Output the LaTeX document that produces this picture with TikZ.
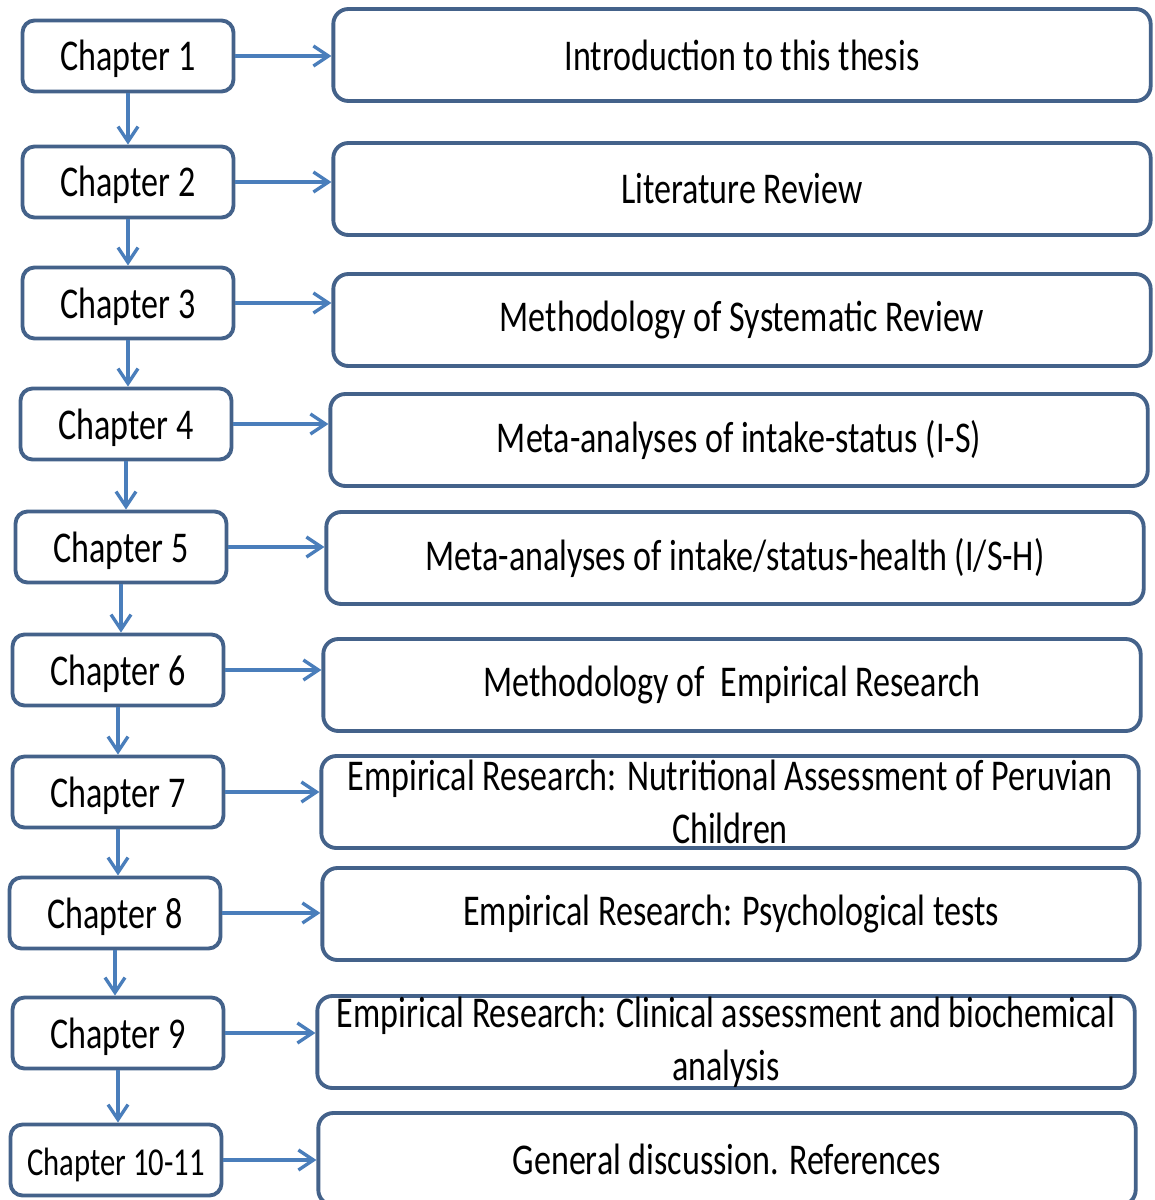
\documentclass[tikz,border=0pt]{standalone}
\usepackage{fontspec}
\setmainfont{Carlito}[FakeStretch=0.775]
\usepackage{tikz}
\usetikzlibrary{arrows.meta}
\definecolor{boxline}{RGB}{68,98,138}
\definecolor{arrowline}{RGB}{74,126,187}

\begin{document}
\begin{tikzpicture}[
    x=0.02cm, y=-0.02cm,
    font=\fontsize{25}{30}\selectfont,
    chap/.style={draw=boxline, line width=2.2pt, fill=white, rounded corners=0.24cm, minimum width=4.22cm, minimum height=1.42cm, inner sep=0pt, text depth=0.12cm, text height=0.72cm},
    desc/.style={draw=boxline, line width=2.2pt, fill=white, rounded corners=0.3cm, minimum width=16.35cm, minimum height=1.84cm, inner sep=0pt, align=center},
    link/.style={draw=arrowline, line width=1.9pt, -{Straight Barb[length=0.3cm, width=0.4cm]}}
]
\useasboundingbox (0,0) rectangle (1155,1200);

% Chapter boxes (left column)
\node[chap] (c1) at (128,56) {Chapter 1};
\node[chap] (c2) at (128,182) {Chapter 2};
\node[chap] (c3) at (128,303) {Chapter 3};
\node[chap] (c4) at (126,424) {Chapter 4};
\node[chap] (c5) at (121,547) {Chapter 5};
\node[chap] (c6) at (118,670) {Chapter 6};
\node[chap] (c7) at (118,792) {Chapter 7};
\node[chap] (c8) at (115,913) {Chapter 8};
\node[chap] (c9) at (118,1033) {Chapter 9};
\node[chap, font=\fontsize{22.5}{27}\selectfont] (c10) at (116,1160) {Chapter 10-11};

% Content boxes (right column)
\node[desc] (d1) at (742,55) {Introduction to this thesis};
\node[desc] (d2) at (742,189) {Literature Review};
\node[desc] (d3) at (742,320) {Methodology of Systematic Review};
\node[desc] (d4) at (739,440) {Meta-analyses of intake-status (I-S)};
\node[desc] (d5) at (735,558) {Meta-analyses of intake/status-health (I/S-H)};
\node[desc] (d6) at (732,685) {Methodology of\ \ Empirical Research};
\node[desc] (d7) at (730,802) {Empirical Research: Nutritional Assessment of Peruvian\\Children};
\node[desc] (d8) at (731,914) {Empirical Research: Psychological tests};
\node[desc] (d9) at (726,1042) {Empirical Research: Clinical assessment and biochemical\\analysis};
\node[desc] (d10) at (727,1159) {General discussion. References};

% Chapter to content
\draw[link] (c1.east) -- (c1.east -| d1.west);
\draw[link] (c2.east) -- (c2.east -| d2.west);
\draw[link] (c3.east) -- (c3.east -| d3.west);
\draw[link] (c4.east) -- (c4.east -| d4.west);
\draw[link] (c5.east) -- (c5.east -| d5.west);
\draw[link] (c6.east) -- (c6.east -| d6.west);
\draw[link] (c7.east) -- (c7.east -| d7.west);
\draw[link] (c8.east) -- (c8.east -| d8.west);
\draw[link] (c9.east) -- (c9.east -| d9.west);
\draw[link] (c10.east) -- (c10.east -| d10.west);

% Chapter sequence
\draw[link] (c1.south) -- (c1.south |- c2.north);
\draw[link] (c2.south) -- (c2.south |- c3.north);
\draw[link] (c3.south) -- (c3.south |- c4.north);
\draw[link] (c4.south) -- (c4.south |- c5.north);
\draw[link] (c5.south) -- (c5.south |- c6.north);
\draw[link] (c6.south) -- (c6.south |- c7.north);
\draw[link] (c7.south) -- (c7.south |- c8.north);
\draw[link] (c8.south) -- (c8.south |- c9.north);
\draw[link] (c9.south) -- (c9.south |- c10.north);

\end{tikzpicture}
\end{document}
